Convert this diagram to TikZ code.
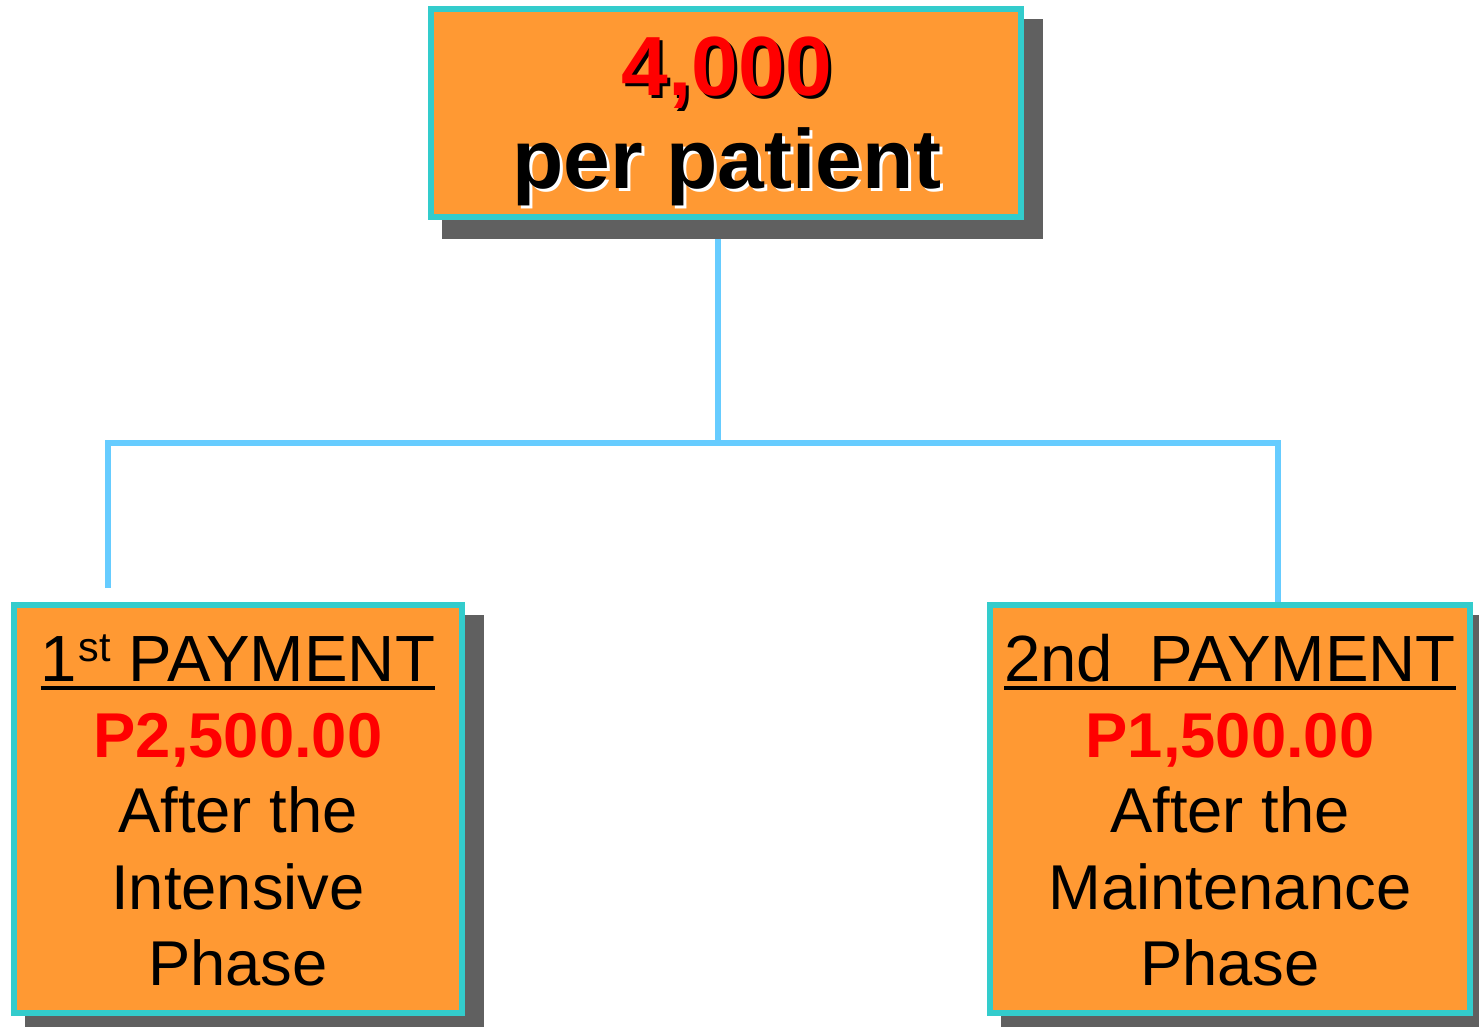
\documentclass[tikz,border=0pt]{standalone}
\usepackage{fontspec}
\setmainfont{Liberation Sans}
\usetikzlibrary{backgrounds,calc}
\definecolor{boxorange}{HTML}{FF9933}
\definecolor{boxcyan}{HTML}{33CCCC}
\definecolor{shadowgray}{HTML}{606060}
\definecolor{linkblue}{HTML}{66CCFF}
\definecolor{amtred}{HTML}{FF0000}
\tikzset{
 box/.style={draw=boxcyan, line width=4.5pt, fill=boxorange, inner sep=0pt},
 boxshadow/.style={fill=shadowgray},
 link/.style={draw=linkblue, line width=4.5pt},
 txt/.style={inner sep=0pt, anchor=base, font=\fontsize{47.5}{56}\selectfont},
 head/.style={txt, font=\fontsize{49}{56}\selectfont},
 amount/.style={txt, text=amtred, font=\fontsize{47.5}{56}\selectfont\bfseries},
 big/.style={inner sep=0pt, anchor=base, font=\fontsize{63}{70}\selectfont\bfseries},
}
\begin{document}
\begin{tikzpicture}[x=0.75pt,y=-0.75pt]
\useasboundingbox (0,0) rectangle (1479,1026);
% boxes
\node[box, minimum width=442.5pt, minimum height=156pt] (top) at (726,113) {};
\node[box, minimum width=336pt, minimum height=306pt] (pay1) at (238,809) {};
\node[box, minimum width=360pt, minimum height=306pt] (pay2) at (1230,809) {};
% connectors and shadows
\coordinate (j) at (718,443);
\coordinate (lend) at (108,588);
\coordinate (rend) at (1278,602);
\begin{scope}[on background layer]
\draw[link] (top.south -| j) -- (j);
\draw[link] (lend) |- (j) -| (rend);
\fill[boxshadow] ($(top.north west)+(14,13)$) rectangle ($(top.south east)+(19,19)$);
\fill[boxshadow] ($(pay1.north west)+(14,13)$) rectangle ($(pay1.south east)+(19,19)$);
\fill[boxshadow] ($(pay2.north west)+(14,13)$) rectangle ($(pay2.south east)+(19,19)$);
\end{scope}
% top text
\node[big, text=black] (n4s) at (730,98) {4,000};
\node[big, text=amtred] (n4) at (727,95) {4,000};
\node[big, text=white] (pps) at (730,191) {per patient};
\node[big, text=black] (pp) at (727,188) {per patient};
% left box text
\node[head] (h1) at (238,681) {1\kern1pt\raisebox{14.5pt}{\fontsize{31}{32}\selectfont st} PAYMENT};
\draw[line width=3pt] ($(h1.base west)+(0,7)$) -- ($(h1.base east)+(0,7)$);
\node[amount] (a1) at (238,757) {P2,500.00};
\node[txt] (b1) at (238,832) {After the};
\node[txt] (c1) at (238,909) {Intensive};
\node[txt] (d1) at (238,985) {Phase};
% right box text
\node[head] (h2) at (1230,681) {2nd~~PAYMENT};
\draw[line width=3pt] ($(h2.base west)+(0,7)$) -- ($(h2.base east)+(0,7)$);
\node[amount] (a2) at (1230,757) {P1,500.00};
\node[txt] (b2) at (1230,832) {After the};
\node[txt] (c2) at (1230,909) {Maintenance};
\node[txt] (d2) at (1230,985) {Phase};
\end{tikzpicture}
\end{document}
